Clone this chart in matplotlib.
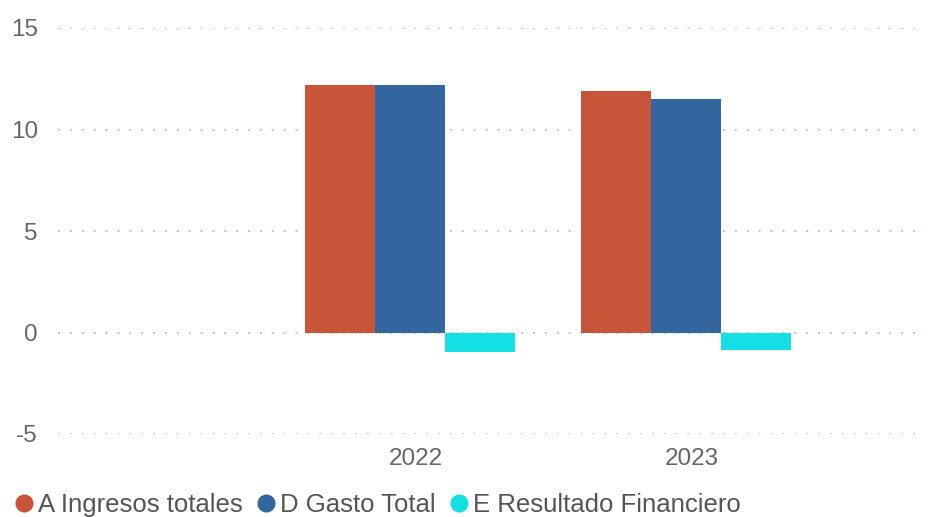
import matplotlib
matplotlib.use("Agg")
import matplotlib.pyplot as plt
import matplotlib.transforms as mtransforms
import numpy as np
from matplotlib.lines import Line2D

years = ["2022", "2023"]
series_names = ["A Ingresos totales", "D Gasto Total", "E Resultado Financiero"]
ingresos = [12.2, 11.9]
gasto = [12.2, 11.5]
resultado = [-0.98, -0.88]
colors = ["#C8553A", "#33669F", "#13DFE4"]
yticks = [-5, 0, 5, 10, 15]

plt.rcParams['font.family'] = ['Liberation Sans', 'DejaVu Sans']

fig = plt.figure(figsize=(9.3, 5.17), dpi=100)
ax = fig.add_axes([58/930, 1-434/517, (925-58)/930, (434-28)/517])

x = np.arange(len(years))
w = 70/276
for i, (vals, c) in enumerate(zip([ingresos, gasto, resultado], colors)):
    ax.bar(x + (i-1)*w, vals, width=w, color=c, zorder=3, linewidth=0)

ax.set_ylim(-5, 15)
ax.set_xlim(-(410-58)/276, 1 + (925-686)/276)
ax.set_yticks(yticks)
ax.set_yticklabels([str(t) for t in yticks])
ax.set_xticks(x)
ax.set_xticklabels(years)
ax.tick_params(axis='both', length=0, labelsize=17.5, colors="#666666")
ax.tick_params(axis='y', pad=14.5)
ax.tick_params(axis='x', pad=10)
offset = mtransforms.ScaledTranslation(6/100, 0, fig.dpi_scale_trans)
for lbl in ax.get_xticklabels():
    lbl.set_transform(lbl.get_transform() + offset)
for s in ax.spines.values():
    s.set_visible(False)
ax.yaxis.grid(True, linestyle=(0, (1, 4.7)), color="#C8C8C8", linewidth=1.5, zorder=0)

handles = [Line2D([], [], marker='o', linestyle='', markersize=13, markerfacecolor=c,
                  markeredgewidth=0) for c in colors]
leg = fig.legend(handles, series_names, loc='lower left', bbox_to_anchor=(-0.016, -0.044),
                 ncol=3, frameon=False, fontsize=18.5, handletextpad=-0.05,
                 columnspacing=0.3, handlelength=1.2, labelcolor="#555555")

fig.savefig("out.png", dpi=100)
